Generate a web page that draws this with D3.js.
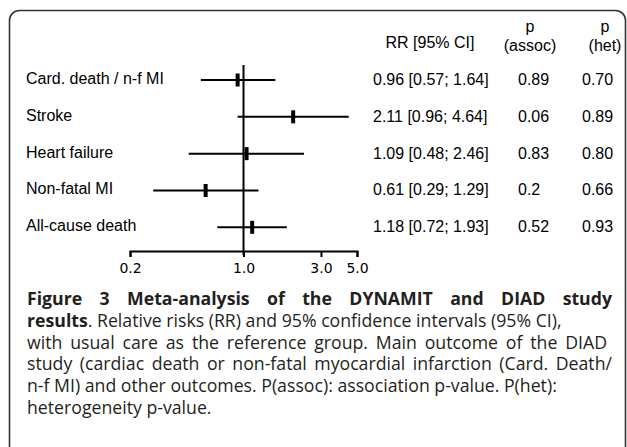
<!DOCTYPE html>
<html>
  <head>
    <meta charset="utf-8">
    <title>Meta-analysis forest plot</title>
    <script src="https://d3js.org/d3.v7.min.js"></script>
  </head>
  <style>
    body { margin: 0; background: #fff; }
    .lbl { font-family: "Liberation Sans", Arial, sans-serif; font-size: 16px; fill: #000; }
    .ci { stroke: #000; stroke-width: 2; }
    .axis text { font-family: "DejaVu Sans", Verdana, sans-serif; font-size: 14px; fill: #000; }
    .axis path, .axis line { stroke: #000; stroke-width: 2; }
    .cap { font-family: "Open Sans", sans-serif; font-size: 17.7px; fill: #231f20; }
  </style>
  <body>
    <script type="text/javascript">
        var width = 627;
        var height = 447;

        // data
        const outcomes = ['Card. death / n-f MI', 'Stroke', 'Heart failure', 'Non-fatal MI', 'All-cause death'];
        const rr = [0.96, 2.11, 1.09, 0.61, 1.18];
        const ciLow = [0.57, 0.96, 0.48, 0.29, 0.72];
        const ciHigh = [1.64, 4.64, 2.46, 1.29, 1.93];
        const pAssoc = ['0.89', '0.06', '0.83', '0.2', '0.52'];
        const pHet = ['0.70', '0.89', '0.80', '0.66', '0.93'];
        const tickValues = [0.2, 1.0, 3.0, 5.0];

        const caption = [
          [{t: 'Figure 3 Meta-analysis of the DYNAMIT and DIAD study', b: true}],
          [{t: 'results', b: true}, {t: '. Relative risks (RR) and 95% confidence intervals (95% CI),'}],
          [{t: 'with usual care as the reference group. Main outcome of the DIAD'}],
          [{t: 'study (cardiac death or non-fatal myocardial infarction (Card. Death/'}],
          [{t: 'n-f MI) and other outcomes. P(assoc): association p-value. P(het):'}],
          [{t: 'heterogeneity p-value.'}]
        ];
        // right edge each caption line is justified to (null = ragged)
        const lineEnds = [612, null, 607, 612, null, null];

        const svg = d3.select('body').append('svg').attr('width', width).attr('height', height);

        svg.append('rect')
          .attr('x', 9.5).attr('y', 10.5).attr('width', 616).attr('height', 470).attr('rx', 10)
          .attr('fill', 'none').attr('stroke', '#333').attr('stroke-width', 1.6);

        const x = d3.scaleLog().domain([0.2, 5]).range([130, 357]);
        const y = d3.scalePoint().domain(outcomes).range([80, 227.3]);
        const rows = outcomes.map((o, i) => ({o: o, rr: rr[i], lo: ciLow[i], hi: ciHigh[i], pa: pAssoc[i], ph: pHet[i]}));

        // reference line at RR = 1
        svg.append('line')
          .attr('x1', x(1)).attr('x2', x(1)).attr('y1', 65).attr('y2', 255)
          .attr('stroke', '#000').attr('stroke-width', 2);

        // intervals and estimates (drawn a hair left of the axis, as in the original)
        const gMarks = svg.append('g').attr('transform', 'translate(-3,0)');
        gMarks.selectAll('line.ci').data(rows).enter().append('line')
          .attr('class', 'ci')
          .attr('x1', d => x(d.lo)).attr('x2', d => x(d.hi))
          .attr('y1', d => y(d.o)).attr('y2', d => y(d.o));
        gMarks.selectAll('rect.est').data(rows).enter().append('rect')
          .attr('class', 'est')
          .attr('x', d => x(d.rr) - 2).attr('y', d => y(d.o) - 6.5)
          .attr('width', 4).attr('height', 13).attr('fill', '#000');

        // axis
        svg.append('g').attr('class', 'axis')
          .attr('transform', 'translate(0,251)')
          .call(d3.axisBottom(x).tickValues(tickValues).tickFormat(d3.format('.1f')).tickSize(6).tickPadding(6));

        // row labels
        svg.selectAll('text.row').data(rows).enter().append('text')
          .attr('class', 'lbl row')
          .attr('x', 26).attr('y', d => y(d.o) + 4)
          .text(d => d.o);

        // headers
        const hdr = svg.append('g').attr('class', 'lbl');
        hdr.append('text').attr('x', 430).attr('y', 48).attr('text-anchor', 'middle').text('RR [95% CI]');
        hdr.append('text').attr('x', 530).attr('y', 32).attr('text-anchor', 'middle').text('p');
        hdr.append('text').attr('x', 530).attr('y', 51).attr('text-anchor', 'middle').text('(assoc)');
        hdr.append('text').attr('x', 605).attr('y', 32).attr('text-anchor', 'middle').text('p');
        hdr.append('text').attr('x', 605).attr('y', 51).attr('text-anchor', 'middle').text('(het)');

        // value columns
        const fmt = d3.format('.2f');
        svg.selectAll('text.rrv').data(rows).enter().append('text')
          .attr('class', 'lbl rrv')
          .attr('x', 373).attr('y', d => y(d.o) + 5)
          .text(d => fmt(d.rr) + ' [' + fmt(d.lo) + '; ' + fmt(d.hi) + ']');
        svg.selectAll('text.pa').data(rows).enter().append('text')
          .attr('class', 'lbl pa')
          .attr('x', 518).attr('y', d => y(d.o) + 5)
          .text(d => d.pa);
        svg.selectAll('text.ph').data(rows).enter().append('text')
          .attr('class', 'lbl ph')
          .attr('x', 582).attr('y', d => y(d.o) + 5)
          .text(d => d.ph);

        // caption
        const capLeft = 27;
        caption.forEach((runs, i) => {
          const t = svg.append('text').attr('class', 'cap').attr('x', capLeft).attr('y', 305 + i * 21.8);
          runs.forEach(r => t.append('tspan').attr('font-weight', r.b ? 700 : 400).text(r.t));
          if (lineEnds[i]) {
            const full = runs.map(r => r.t).join('');
            const spaces = (full.match(/ /g) || []).length;
            const w = t.node().getComputedTextLength();
            t.style('word-spacing', ((lineEnds[i] - capLeft - w) / spaces) + 'px');
          }
        });
      </script>
  </body>
</html>
